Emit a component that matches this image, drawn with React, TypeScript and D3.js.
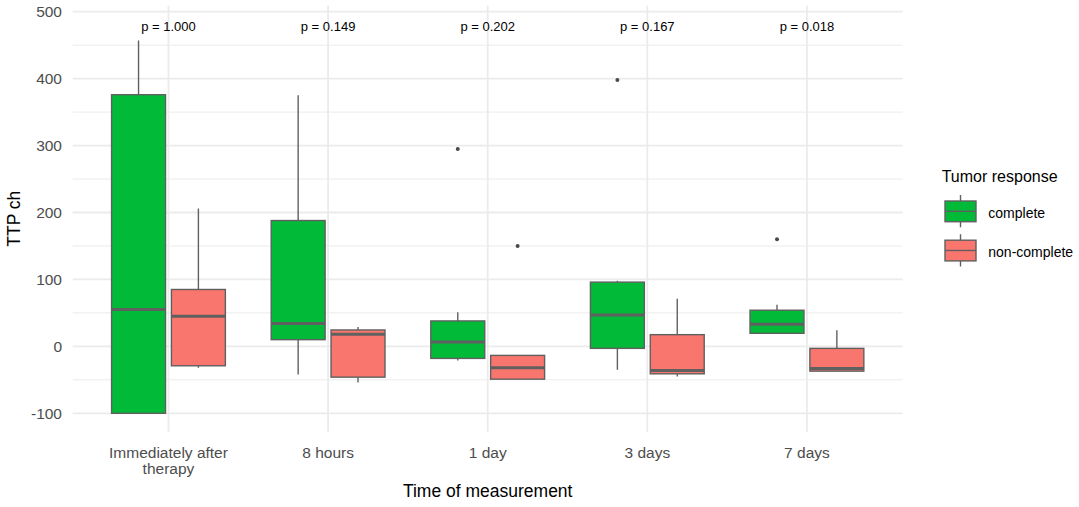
import React from "react";
import * as d3 from "d3";

// categories on the x axis
const categories = ["Immediately after\ntherapy", "8 hours", "1 day", "3 days", "7 days"];
const groups = ["complete", "non-complete"];
const groupColors = ["#00BA38", "#F8766D"];

// box stats per category: [lower whisker, q1, median, q3, upper whisker]
const completeStats = [
  [-100, -100, 55, 376, 457],
  [-42, 10, 34, 188, 375],
  [-21, -18, 6.5, 38, 51],
  [-35, -3, 47, 96, 98],
  [19.5, 19.5, 33, 54, 62],
];
const nonCompleteStats = [
  [-32, -29, 45, 85, 206],
  [-54, -46, 18, 24.5, 29],
  [-49, -49, -32, -13.5, -13.5],
  [-45, -41, -36, 17.5, 71],
  [-37, -37, -33, -3, 24],
];
const completeOutliers = [[], [], [295], [398], [160]];
const nonCompleteOutliers = [[], [], [150], [], []];

const pLabels = ["p = 1.000", "p = 0.149", "p = 0.202", "p = 0.167", "p = 0.018"];
const pLabelY = 478;

const yTicks = [-100, 0, 100, 200, 300, 400, 500];
const yMinor = [-50, 50, 150, 250, 350, 450];

const W = 1079;
const H = 507;
const FONT = "'Liberation Sans', Arial, sans-serif";

export default function App() {
  const plotLeft = 72.7;
  const plotRight = 902.7;
  const plotTop = 5.7;
  const plotBottom = 431.7;

  const x = d3.scaleLinear().domain([0.4, categories.length + 0.6]).range([plotLeft, plotRight]);
  const y = d3.scaleLinear().domain([-100, 500]).range([413.3, 11.7]);

  const dodge = 0.1875;
  const boxW = 0.338;
  const unit = x(1) - x(0);

  const statsByGroup = [completeStats, nonCompleteStats];
  const outliersByGroup = [completeOutliers, nonCompleteOutliers];
  const outline = "#606060";

  return (
    <svg width={W} height={H} style={{ position: "absolute", left: 0, top: 0, background: "#fff" }} fontFamily={FONT}>
      {/* grid */}
      {yMinor.map((v) => (
        <line key={"mn" + v} x1={plotLeft} x2={plotRight} y1={y(v)} y2={y(v)} stroke="#EBEBEB" strokeWidth={1} />
      ))}
      {yTicks.map((v) => (
        <line key={"mj" + v} x1={plotLeft} x2={plotRight} y1={y(v)} y2={y(v)} stroke="#EBEBEB" strokeWidth={1.8} />
      ))}
      {categories.map((c, i) => (
        <line key={"vg" + i} x1={x(i + 1)} x2={x(i + 1)} y1={plotTop} y2={plotBottom} stroke="#EBEBEB" strokeWidth={1.8} />
      ))}

      {/* boxes */}
      {categories.map((c, i) =>
        groups.map((g, gi) => {
          const s = statsByGroup[gi][i];
          const cx = x(i + 1 + (gi === 0 ? -dodge : dodge));
          const half = (boxW * unit) / 2;
          return (
            <g key={c + g}>
              <line x1={cx} x2={cx} y1={y(s[4])} y2={y(s[3])} stroke={outline} strokeWidth={1.4} />
              <line x1={cx} x2={cx} y1={y(s[1])} y2={y(s[0])} stroke={outline} strokeWidth={1.4} />
              <rect x={cx - half} y={y(s[3])} width={half * 2} height={y(s[1]) - y(s[3])} fill={groupColors[gi]} stroke={outline} strokeWidth={1.4} />
              <line x1={cx - half} x2={cx + half} y1={y(s[2])} y2={y(s[2])} stroke={outline} strokeWidth={3} />
              {outliersByGroup[gi][i].map((o, oi) => (
                <circle key={oi} cx={cx} cy={y(o)} r={2} fill="#4a4a4a" />
              ))}
            </g>
          );
        })
      )}

      {/* p values */}
      {pLabels.map((p, i) => (
        <text key={p} x={x(i + 1)} y={y(pLabelY)} fontSize={13} textAnchor="middle" dominantBaseline="central" fill="#000">
          {p}
        </text>
      ))}

      {/* y tick labels */}
      {yTicks.map((v) => (
        <text key={"yt" + v} x={62} y={y(v)} fontSize={15.5} textAnchor="end" dominantBaseline="central" fill="#4D4D4D">
          {v}
        </text>
      ))}

      {/* x tick labels */}
      {categories.map((c, i) => (
        <text key={"xt" + i} x={x(i + 1)} y={451.7} fontSize={15.5} textAnchor="middle" dominantBaseline="central" fill="#4D4D4D">
          {c.split("\n").map((ln, li) => (
            <tspan key={li} x={x(i + 1)} dy={li === 0 ? 0 : 16.7}>
              {ln}
            </tspan>
          ))}
        </text>
      ))}

      {/* axis titles */}
      <text x={(plotLeft + plotRight) / 2} y={490.7} fontSize={17.5} textAnchor="middle" dominantBaseline="central" fill="#000">
        Time of measurement
      </text>
      <text transform={`translate(13.5,${(plotTop + plotBottom) / 2}) rotate(-90)`} fontSize={17.5} textAnchor="middle" dominantBaseline="central" fill="#000">
        TTP ch
      </text>

      {/* legend */}
      <text x={941.7} y={176.7} fontSize={16} dominantBaseline="central" fill="#000">
        Tumor response
      </text>
      {groups.map((g, gi) => {
        const cy = 211.3 + gi * 39.2;
        return (
          <g key={"lg" + g}>
            <line x1={960.5} x2={960.5} y1={cy - 16.3} y2={cy + 16} stroke={outline} strokeWidth={1.4} />
            <rect x={945} y={cy - 10.3} width={31} height={20.7} fill={groupColors[gi]} stroke={outline} strokeWidth={1.4} />
            <line x1={945} x2={976} y1={cy} y2={cy} stroke={outline} strokeWidth={1.4} />
            <text x={988.3} y={cy + 1.2} fontSize={14} dominantBaseline="central" fill="#000">
              {g}
            </text>
          </g>
        );
      })}
    </svg>
  );
}
